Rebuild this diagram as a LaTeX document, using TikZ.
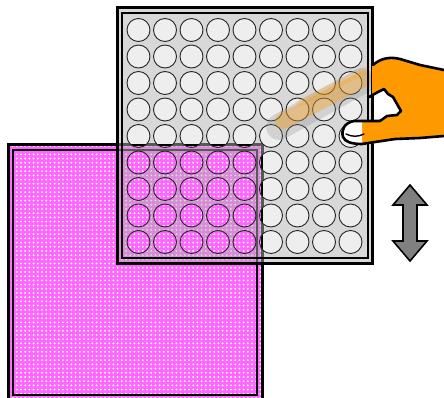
\documentclass[tikz,border=0pt]{standalone}
\usetikzlibrary{patterns}

% small white dots laid over the pink plate
\pgfdeclarepatternformonly{whitedots}{\pgfpoint{-2pt}{-2pt}}{\pgfpoint{2pt}{2pt}}{\pgfpoint{4.2pt}{4.2pt}}%
  {\pgfpathcircle{\pgfpoint{0pt}{0pt}}{1.05pt}\pgfusepath{fill}}

\definecolor{platepink}{HTML}{FF66FF}
\definecolor{traygray}{HTML}{B2B2B2}
\definecolor{wellgray}{HTML}{EEEEEE}
\definecolor{handorange}{HTML}{FF9900}
\definecolor{arrowgray}{HTML}{808080}

\tikzset{
  outerframe/.style={draw=black, line width=3pt},
  innerframe/.style={draw=black, line width=2pt},
  wellrim/.style={draw=black!85, line width=0.9pt},
  handline/.style={draw=black, line width=2.6pt, line join=round, line cap=round},
}

\begin{document}
\begin{tikzpicture}[x=1pt, y=-1pt]
\useasboundingbox (0,0) rectangle (444,398);

% ---- pink plate (behind) ----
\fill[platepink] (8,145) rectangle (262,402);
\fill[pattern=whitedots, pattern color=white] (8,145) rectangle (262,402);
\draw[outerframe] (8,145) rectangle (262,402);
\draw[innerframe] (13,150) rectangle (257,395);

% ---- gray well tray, see-through ----
\fill[traygray, fill opacity=0.5, even odd rule] (117,8) rectangle (372,263)
  \foreach \i in {0,...,8}{\foreach \j in {0,...,8}{
    (138.5+26.5*\i, 30+26.5*\j) circle[radius=11.5]}};

% wells keep their light fill where no plate lies beneath
\begin{scope}
  \clip (117,8) -- (372,8) -- (372,263) -- (263,263) -- (263,144) -- (117,144) -- cycle;
  \foreach \i in {0,...,8}{\foreach \j in {0,...,8}{
    \fill[wellgray] (138.5+26.5*\i, 30+26.5*\j) circle[radius=11.5];}}
\end{scope}

% well rims
\foreach \i in {0,...,8}{\foreach \j in {0,...,8}{
  \draw[wellrim] (138.5+26.5*\i, 30+26.5*\j) circle[radius=11.5];}}

% ghost of the moving hand
\draw[line width=26pt, line cap=round, gray, opacity=0.25] (279,127) -- (362,81);
\draw[line width=16pt, line cap=round, handorange, opacity=0.35] (283,121) -- (364,79);
\draw[line width=7pt, line cap=round, handorange, opacity=0.2] (300,103) -- (366,70);

% tray frame
\draw[outerframe] (117,8) rectangle (372,263);
\draw[innerframe] (122,13) rectangle (368,258);

% ---- hand gripping the tray edge ----
\fill[handorange]
  (372,66) .. controls (382,57) and (392,57) .. (400,59) -- (420,65) -- (444,69)
  -- (444,137) -- (420,138) -- (395,140) -- (375,143) -- (362,144)
  -- (362,121) -- (380,121) -- (388,117) -- (400,115) -- (402,110)
  -- (391,95) -- (385,90) -- (378,93) -- (372,96) -- cycle;
\fill[white] (362,121) -- (352,121) .. controls (344,123) and (341,130) .. (343,137)
  .. controls (345,142) and (352,144) .. (362,144) -- cycle;
% outlines
\draw[handline] (373,65) .. controls (382,57) and (392,57) .. (400,59) -- (420,65) -- (444,70);
\draw[handline] (369,97) -- (378,92) -- (384,89) -- (388,94) -- (393,97) -- (401,111)
  -- (397,115) -- (387,116) -- (380,121);
\draw[handline] (380,121) -- (354,121) .. controls (344,123) and (341,130) .. (343,137)
  .. controls (345,142) and (352,144) .. (362,144) -- (375,142) -- (395,139) -- (420,138) -- (444,136);
\draw[draw=black, line width=1.4pt, line cap=round] (346,134) .. controls (352,137) and (358,137) .. (364,134);

% ---- up/down arrow ----
\filldraw[fill=arrowgray, draw=black, line width=1.6pt, line join=miter]
  (410,185) -- (427,205) -- (417,205) -- (417,241) -- (427,241) -- (410,261)
  -- (393,241) -- (403,241) -- (403,205) -- (393,205) -- cycle;
\end{tikzpicture}
\end{document}
